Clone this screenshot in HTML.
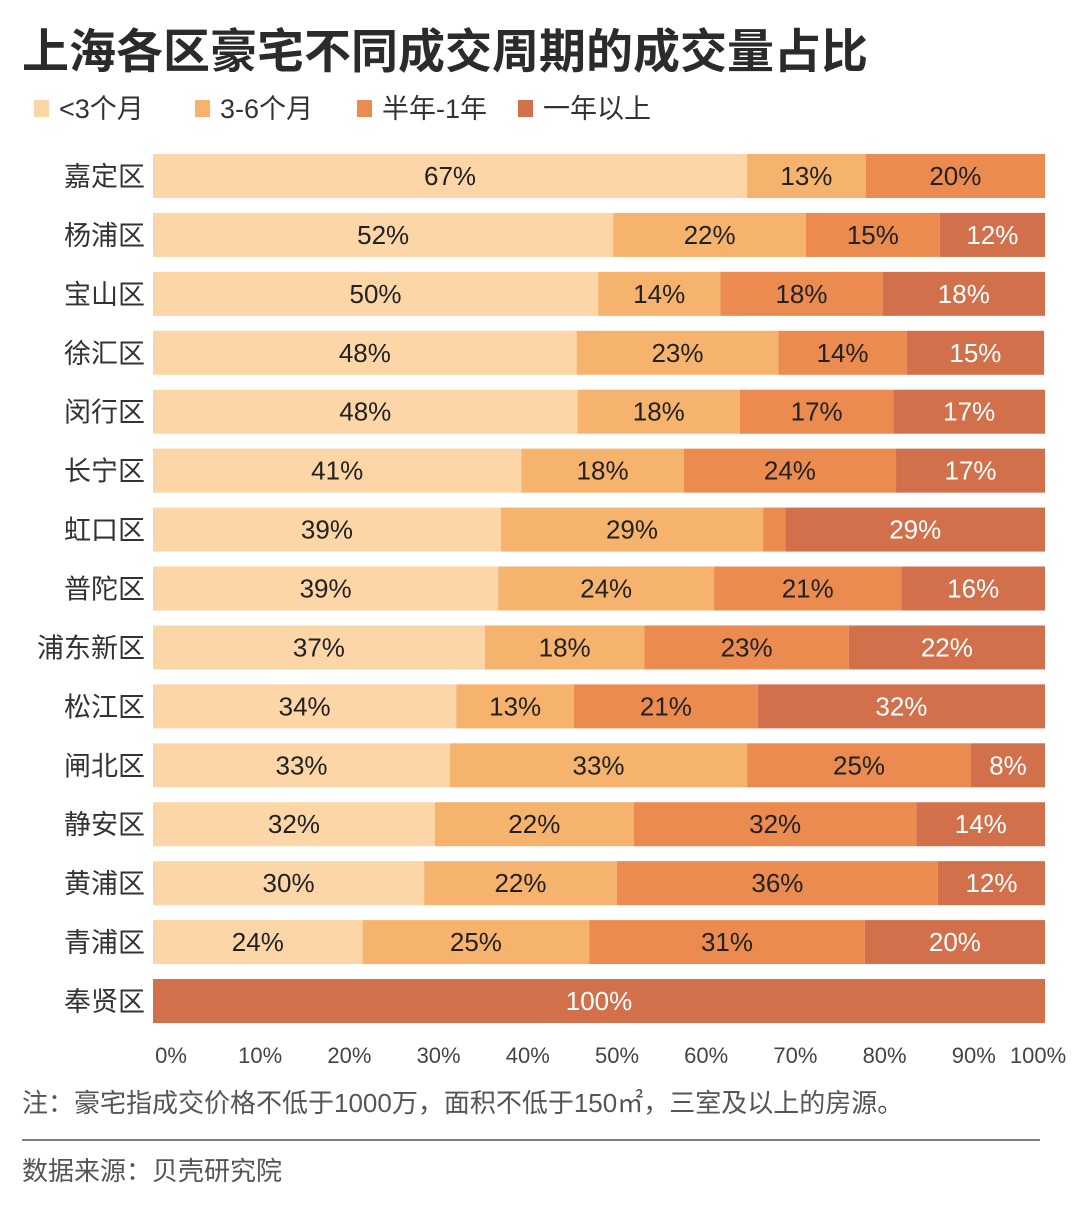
<!DOCTYPE html>
<html><head><meta charset="utf-8"><style>
body{margin:0;background:#fff;}
svg text{font-family:"Liberation Sans","Noto Sans CJK SC",sans-serif;}
</style></head><body>
<svg id="c" width="1080" height="1215" viewBox="0 0 1080 1215" xmlns="http://www.w3.org/2000/svg">
<text x="22" y="68" font-size="47" font-weight="bold" fill="#2b2b2b">上海各区豪宅不同成交周期的成交量占比</text>
<g id="legend"></g>
<g id="bars"></g>
<g id="xaxis"></g>
<text x="22" y="1112" font-size="26" fill="#555">注：豪宅指成交价格不低于1000万，面积不低于150㎡，三室及以上的房源。</text>
<line x1="22" y1="1140" x2="1040" y2="1140" stroke="#555" stroke-width="1.5"/>
<text x="22" y="1180" font-size="26" fill="#555">数据来源：贝壳研究院</text>
</svg>
<script>
const districts=["嘉定区","杨浦区","宝山区","徐汇区","闵行区","长宁区","虹口区","普陀区","浦东新区","松江区","闸北区","静安区","黄浦区","青浦区","奉贤区"];
const seriesNames=["<3个月","3-6个月","半年-1年","一年以上"];
const lt3m=[66.6,51.6,49.9,47.5,47.6,41.3,39,38.7,37.2,34,33.3,31.6,30.4,23.5,0];
const m3to6=[13.3,21.6,13.7,22.6,18.2,18.2,29.4,24.2,17.9,13.2,33.3,22.3,21.6,25.4,0];
const halfTo1y=[20.1,15,18.2,14.4,17.2,23.8,2.5,21,22.9,20.6,25.1,31.7,36,30.9,0];
const over1y=[0,11.8,18.2,15.4,17,16.7,29.1,16.1,22,32.2,8.3,14.4,12,20.2,100];
const xTicks=[0,10,20,30,40,50,60,70,80,90,100];
const colors=["#fdd6a8","#f6b36d","#ec8b4f","#d1704b"];
const NS="http://www.w3.org/2000/svg";
const X0=153,X1=1045,Y0=176,STEP=58.93,BH=44;
const x=v=>X0+(X1-X0)*v/100;
const y=i=>Y0+STEP*i;
function mk(tag,attrs,parent){const e=document.createElementNS(NS,tag);for(const k in attrs)e.setAttribute(k,attrs[k]);parent.appendChild(e);return e;}
const series=[lt3m,m3to6,halfTo1y,over1y];
const bars=document.getElementById('bars');
districts.forEach((d,i)=>{
  const t=mk('text',{x:145,y:y(i)+10,'font-size':27,fill:'#333','text-anchor':'end'},bars);
  t.textContent=d;
  
  
  let acc=0;
  series.forEach((s,k)=>{
    const v=s[i];
    if(v>0){
      const r=mk('rect',{x:x(acc),y:y(i)-BH/2,width:x(acc+v)-x(acc),height:BH,fill:colors[k]},bars);
      
      
      if(v>=5){
        const l=mk('text',{x:(x(acc)+x(acc+v))/2,y:y(i)+9,'font-size':26,fill:k==3?'#fff':'#222','text-anchor':'middle'},bars);
        l.textContent=Math.round(v)+'%';
        
        
      }
    }
    acc+=v;
  });
});
const xa=document.getElementById('xaxis');
xTicks.forEach(v=>{
  const t=mk('text',{x:Math.min(x(v)+18,1038),y:1063,'font-size':22,fill:'#444','text-anchor':'middle'},xa);
  t.textContent=v+'%';
  
  
});
const lg=document.getElementById('legend');
const lx=[34,195,357,518];
seriesNames.forEach((n,k)=>{
  const r=mk('rect',{x:lx[k],y:100,width:15,height:17,fill:colors[k]},lg);
  
  
  const t=mk('text',{x:lx[k]+25,y:118,'font-size':27,fill:'#333'},lg);
  t.textContent=n;
  
  
});
</script>
</body></html>
